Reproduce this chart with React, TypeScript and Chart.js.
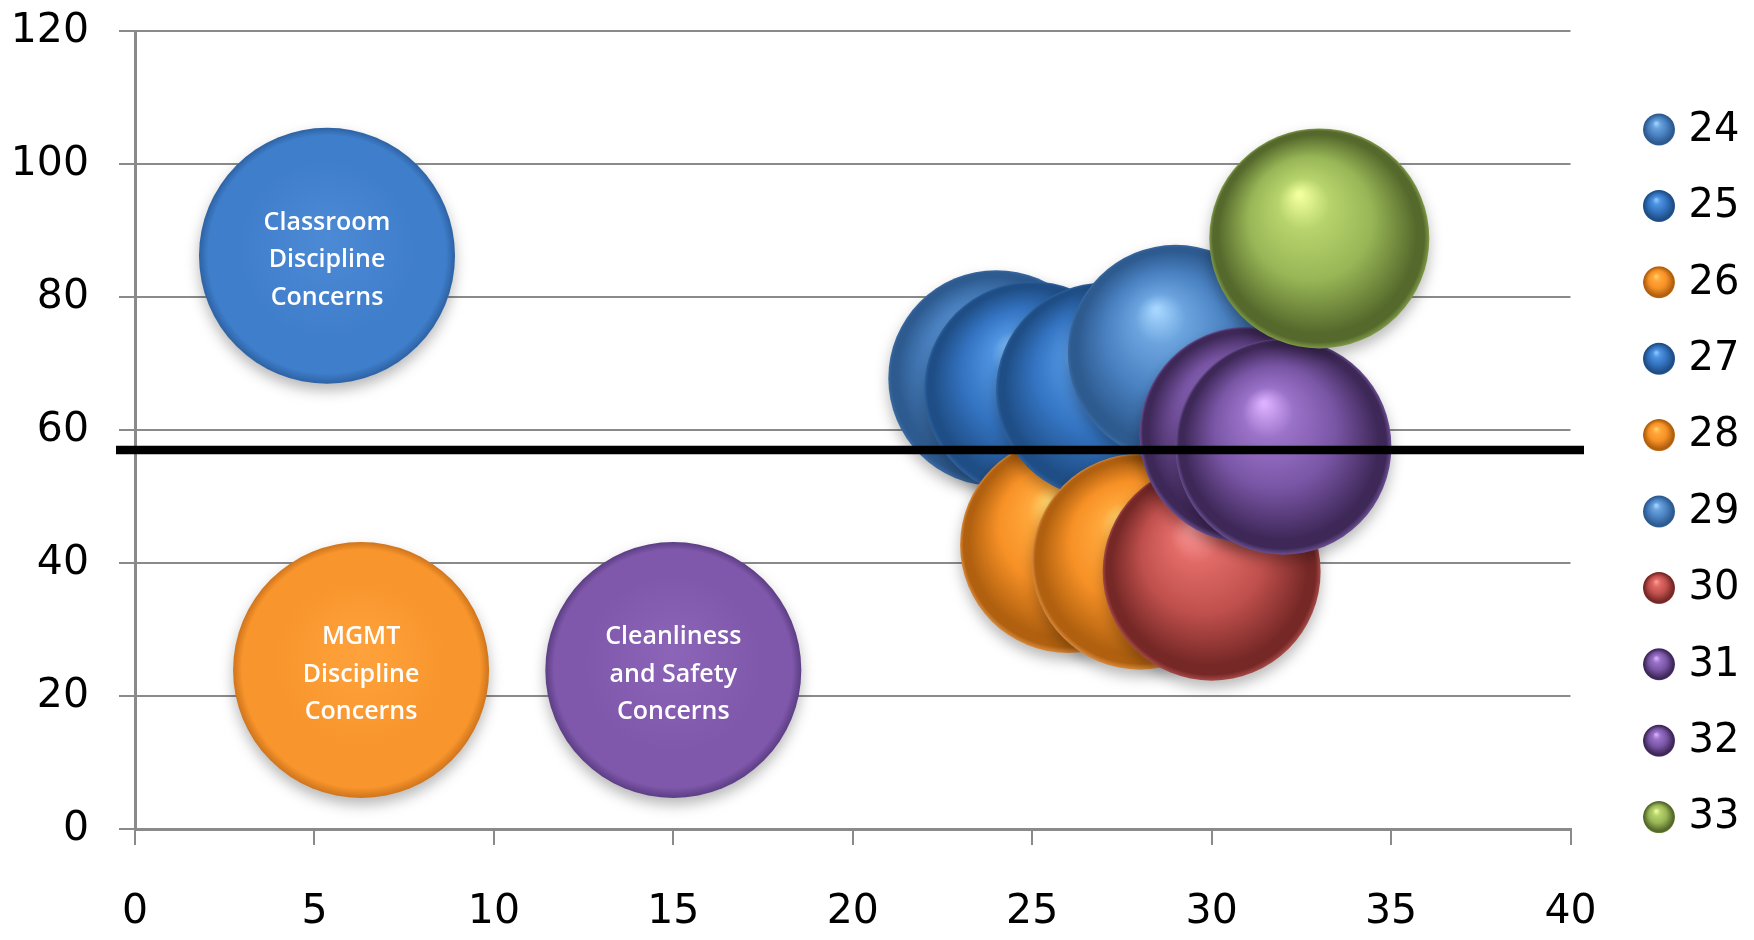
import React, { useEffect, useRef } from 'react';
import { Chart, registerables } from 'chart.js';

Chart.register(...registerables);

// ---------- data ----------
const SERIES_NAMES = ['24', '25', '26', '27', '28', '29', '30', '31', '32', '33'];
const SERIES_X = [24, 25, 26, 27, 28, 29, 30, 31, 32, 33];
const SERIES_Y = [67.8, 66.1, 42.7, 65.9, 40.2, 71.6, 38.7, 59.3, 57.5, 88.8];
const SERIES_SIZE = [108, 108, 108, 108, 108, 108, 109, 108, 108, 110];

const TOPIC_LINES = [
  ['Classroom', 'Discipline', 'Concerns'],
  ['MGMT', 'Discipline', 'Concerns'],
  ['Cleanliness', 'and Safety', 'Concerns'],
];
const TOPIC_X = [5.35, 6.3, 15.0];
const TOPIC_Y = [86.2, 23.9, 23.9];
const TOPIC_SIZE = [128, 128, 128];

const THRESHOLD_Y = 57;

const X_MIN = 0;
const X_MAX = 40;
const X_STEP = 5;
const Y_MIN = 0;
const Y_MAX = 120;
const Y_STEP = 20;

// ---------- styles ----------
type Shade = { hi: string; mid: string; base: string; dark: string; rim: string };
const BLUE: Shade = { hi: '#a6d6ff', mid: '#6aa3de', base: '#4a82c2', dark: '#2d5a8f', rim: '#3a6aa3' };
const DEEP: Shade = { hi: '#8cc8ff', mid: '#4f93e0', base: '#3474c2', dark: '#1f4e86', rim: '#2e619e' };
const ORANGE: Shade = { hi: '#ffd36a', mid: '#ffa63a', base: '#f79126', dark: '#b0600f', rim: '#d98a3c' };
const RED: Shade = { hi: '#ff9a9a', mid: '#e06a66', base: '#c0504d', dark: '#752826', rim: '#a84a48' };
const PURPLE: Shade = { hi: '#dcb0ff', mid: '#9a72c8', base: '#7a56a6', dark: '#3e2858', rim: '#6a4f92' };
const GREEN: Shade = { hi: '#f2ff9c', mid: '#b6d36c', base: '#98b656', dark: '#55692c', rim: '#7f9a46' };
const SERIES_SHADES = [BLUE, DEEP, ORANGE, DEEP, ORANGE, BLUE, RED, PURPLE, PURPLE, GREEN];

type Flat = { light: string; base: string; edge: string };
const TOPIC_SHADES: Flat[] = [
  { light: '#4d8ad6', base: '#3f7ecb', edge: '#2d62a3' },
  { light: '#ffa23c', base: '#f8952c', edge: '#cf741c' },
  { light: '#8c64b8', base: '#7f58ab', edge: '#5c3d84' },
];

const TICK_FONT = { family: '"DejaVu Sans", Verdana, sans-serif', size: 41, lineHeight: 1 };
const GRID_COLOR = '#8a8a8a';

function ok(...v: number[]) {
  return v.every((n) => typeof n === 'number' && isFinite(n));
}

function sphereGradient(c2d: CanvasRenderingContext2D, cx: number, cy: number, r: number, s: Shade) {
  const g = c2d.createRadialGradient(cx - 0.18 * r, cy - 0.4 * r, r * 0.02, cx, cy, r);
  g.addColorStop(0, s.hi);
  g.addColorStop(0.22, s.mid);
  g.addColorStop(0.55, s.base);
  g.addColorStop(0.9, s.dark);
  g.addColorStop(0.96, s.dark);
  g.addColorStop(1, s.rim);
  return g;
}

function pixelOf(ctx: any) {
  const chart = ctx.chart;
  const raw = ctx.raw;
  if (!raw || !chart || !chart.scales || !chart.scales.x || !chart.scales.y) return null;
  const cx = chart.scales.x.getPixelForValue(raw.x);
  const cy = chart.scales.y.getPixelForValue(raw.y);
  const r = raw.r;
  if (!ok(cx, cy, r) || r <= 0) return null;
  return { cx, cy, r };
}

function sphereFill(ctx: any, s: Shade) {
  const p = pixelOf(ctx);
  if (!p) return s.base;
  return sphereGradient(ctx.chart.ctx, p.cx, p.cy, p.r, s);
}

function topicFill(ctx: any, f: Flat) {
  const p = pixelOf(ctx);
  if (!p) return f.base;
  const { cx, cy, r } = p;
  const g = ctx.chart.ctx.createRadialGradient(cx, cy - 0.15 * r, 0, cx, cy, r);
  g.addColorStop(0, f.light);
  g.addColorStop(0.7, f.base);
  g.addColorStop(0.93, f.base);
  g.addColorStop(1, f.edge);
  return g;
}

const overlayPlugin = {
  id: 'overlay',
  beforeDatasetsDraw(chart: any) {
    const c = chart.ctx;
    c.save();
    c.shadowColor = 'rgba(0,0,0,0.28)';
    c.shadowBlur = 14;
    c.shadowOffsetY = 7;
  },
  afterDatasetsDraw(chart: any) {
    const c: CanvasRenderingContext2D = chart.ctx;
    c.restore();
    const xs = chart.scales.x;
    const ys = chart.scales.y;
    const area = chart.chartArea;

    // topic texts
    c.save();
    c.fillStyle = '#ffffff';
    c.textAlign = 'center';
    c.textBaseline = 'middle';
    c.font = '600 25px "Open Sans", sans-serif';
    TOPIC_LINES.forEach((lines, i) => {
      const cx = xs.getPixelForValue(TOPIC_X[i]);
      const cy = ys.getPixelForValue(TOPIC_Y[i]);
      lines.forEach((ln, j) => {
        c.fillText(ln, cx, cy + 4.5 + (j - 1) * 37.5);
      });
    });
    c.restore();

    // threshold line
    const ty = ys.getPixelForValue(THRESHOLD_Y);
    c.save();
    c.strokeStyle = '#000000';
    c.lineWidth = 8.5;
    c.beginPath();
    c.moveTo(area.left - 19, ty);
    c.lineTo(area.right + 13.5, ty);
    c.stroke();
    c.restore();

    // legend
    c.save();
    const mx = area.right + 88.5;
    const tx = area.right + 118;
    const y0 = area.top + 98.5;
    const step = 76.4;
    c.font = '40px "DejaVu Sans", Verdana, sans-serif';
    c.textAlign = 'left';
    c.textBaseline = 'middle';
    SERIES_NAMES.forEach((name, i) => {
      const y = y0 + step * i;
      const r = 16;
      c.beginPath();
      c.arc(mx, y, r, 0, Math.PI * 2);
      c.fillStyle = sphereGradient(c, mx, y, r, SERIES_SHADES[i]);
      c.fill();
      c.fillStyle = '#000000';
      c.fillText(name, tx, y + 1);
    });
    c.restore();
  },
};

export default function App() {
  const ref = useRef<HTMLCanvasElement | null>(null);

  useEffect(() => {
    if (!ref.current) return;
    const datasets: any[] = [
      ...SERIES_NAMES.map((name, i) => ({
        label: name,
        data: [{ x: SERIES_X[i], y: SERIES_Y[i], r: SERIES_SIZE[i] }],
        order: -i,
        borderWidth: 0,
        clip: false,
        backgroundColor: (ctx: any) => sphereFill(ctx, SERIES_SHADES[i]),
      })),
      ...TOPIC_LINES.map((lines, i) => ({
        label: lines.join(' '),
        data: [{ x: TOPIC_X[i], y: TOPIC_Y[i], r: TOPIC_SIZE[i] }],
        order: 20,
        borderWidth: 0,
        clip: false,
        backgroundColor: (ctx: any) => topicFill(ctx, TOPIC_SHADES[i]),
      })),
    ];

    const chart = new Chart(ref.current, {
      type: 'bubble',
      data: { datasets },
      options: {
        animation: false,
        responsive: false,
        events: [],
        layout: { autoPadding: false, padding: { top: 23, right: 175.5, left: 0, bottom: 0 } },
        plugins: {
          legend: { display: false },
          tooltip: { enabled: false },
        },
        scales: {
          x: {
            type: 'linear',
            min: X_MIN,
            max: X_MAX,
            ticks: { stepSize: X_STEP, font: TICK_FONT, color: '#000', padding: 47, maxRotation: 0 },
            grid: { drawOnChartArea: false, drawTicks: true, tickLength: 16, color: GRID_COLOR, lineWidth: 2 },
            border: { display: true, color: GRID_COLOR, width: 3 },
            afterFit: (s: any) => { s.height = 103; },
          },
          y: {
            type: 'linear',
            min: Y_MIN,
            max: Y_MAX,
            ticks: { stepSize: Y_STEP, font: TICK_FONT, color: '#000', padding: 30 },
            grid: { drawOnChartArea: true, drawTicks: true, tickLength: 16, color: GRID_COLOR, lineWidth: 2 },
            border: { display: true, color: GRID_COLOR, width: 3 },
            afterFit: (s: any) => {
              s.width = 127;
              s.paddingTop = 20;
              s.paddingBottom = 20;
            },
          },
        },
      },
      plugins: [overlayPlugin],
    });
    return () => chart.destroy();
  }, []);

  return (
    <div style={{ width: 1738, height: 924 }}>
      <canvas ref={ref} width={1738} height={924} style={{ display: 'block' }} />
    </div>
  );
}
